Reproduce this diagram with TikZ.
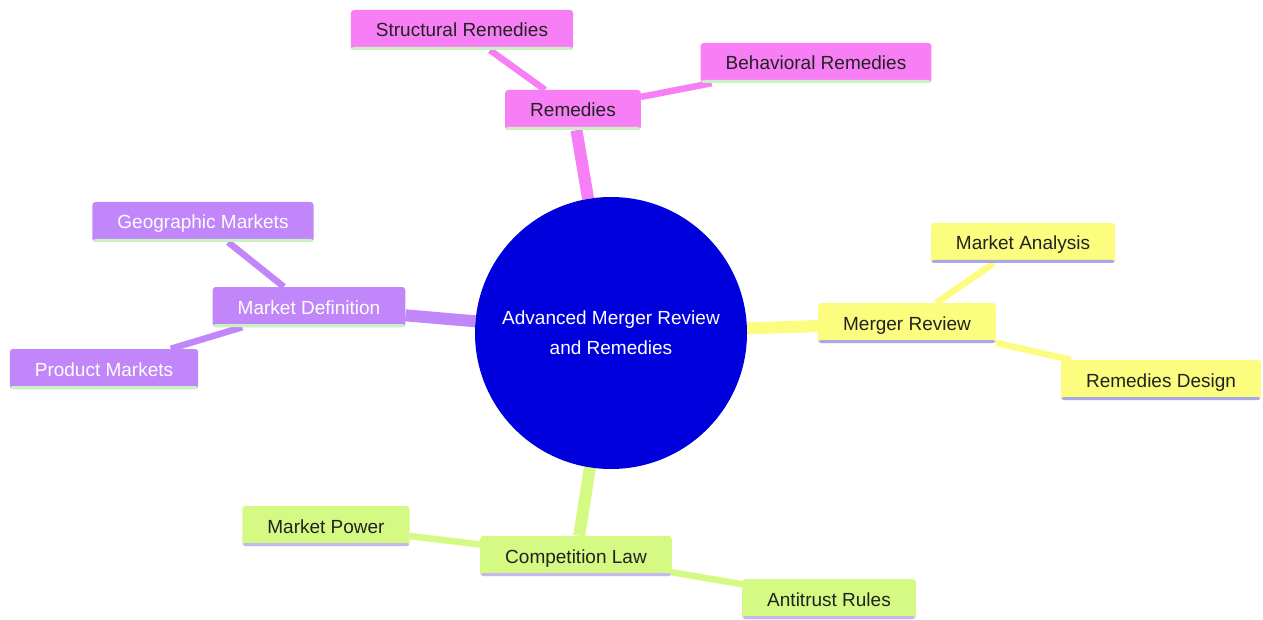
\documentclass[tikz,border=0pt]{standalone}
\usepackage{fontspec}
\setmainfont{Liberation Sans}
\usetikzlibrary{backgrounds}
\definecolor{cpink}{HTML}{F77EF5}
\definecolor{cpurple}{HTML}{C086FA}
\definecolor{cyellow}{HTML}{FCFC7E}
\definecolor{cgreen}{HTML}{D4FA84}
\definecolor{lgreen}{HTML}{C8F2C0}
\definecolor{lblue}{HTML}{A8A8E6}
\definecolor{lpurple}{HTML}{C8B6EE}
\definecolor{cblue}{HTML}{0000DC}
\definecolor{txt}{HTML}{222222}
\tikzset{
  mm/.style={rectangle, rounded corners=3pt, minimum height=40pt, inner xsep=25pt, inner ysep=0pt,
    text height=14pt, text depth=0pt, font=\fontsize{19}{23}\selectfont},
  bline/.style={path picture={\fill[#1] (path picture bounding box.south west) rectangle ([yshift=3pt]path picture bounding box.south east);}},
  pinkbox/.style={mm, fill=cpink, text=txt, bline=lgreen},
  purplebox/.style={mm, fill=cpurple, text=white, bline=lgreen},
  yellowbox/.style={mm, fill=cyellow, text=txt, bline=lblue},
  greenbox/.style={mm, fill=cgreen, text=txt, bline=lpurple},
  thick1/.style={line width=12pt},
  thick2/.style={line width=6.5pt},
}
\begin{document}
\begin{tikzpicture}[x=1pt,y=-1pt]
\useasboundingbox (0,0) rectangle (1263,620);
\node[circle, fill=cblue, minimum size=272pt, inner sep=0pt, text=white, align=center,
  font=\fontsize{19}{30}\selectfont] (root) at (611,333) {Advanced Merger Review\\and Remedies};
\node[pinkbox] (rem) at (573,110) {Remedies};
\node[pinkbox] (str) at (462,30) {Structural Remedies};
\node[pinkbox] (beh) at (816,63) {Behavioral Remedies};
\node[purplebox] (mdef) at (309,307) {Market Definition};
\node[purplebox] (geo) at (203,222) {Geographic Markets};
\node[purplebox] (prod) at (104,369) {Product Markets};
\node[yellowbox] (mrev) at (907,323) {Merger Review};
\node[yellowbox] (mana) at (1023,243) {Market Analysis};
\node[yellowbox] (rdes) at (1161,380) {Remedies Design};
\node[greenbox] (comp) at (576,556) {Competition Law};
\node[greenbox] (mpow) at (326,526) {Market Power};
\node[greenbox] (anti) at (829,599) {Antitrust Rules};
\begin{scope}[on background layer]
\draw[thick1, cpink] (root) -- (rem);
\draw[thick2, cpink] (rem) -- (str);
\draw[thick2, cpink] (rem) -- (beh);
\draw[thick1, cpurple] (root) -- (mdef);
\draw[thick2, cpurple] (mdef) -- (geo);
\draw[thick2, cpurple] (mdef) -- (prod);
\draw[thick1, cyellow] (root) -- (mrev);
\draw[thick2, cyellow] (mrev) -- (mana);
\draw[thick2, cyellow] (mrev) -- (rdes);
\draw[thick1, cgreen] (root) -- (comp);
\draw[thick2, cgreen] (comp) -- (mpow);
\draw[thick2, cgreen] (comp) -- (anti);
\end{scope}
\end{tikzpicture}
\end{document}
